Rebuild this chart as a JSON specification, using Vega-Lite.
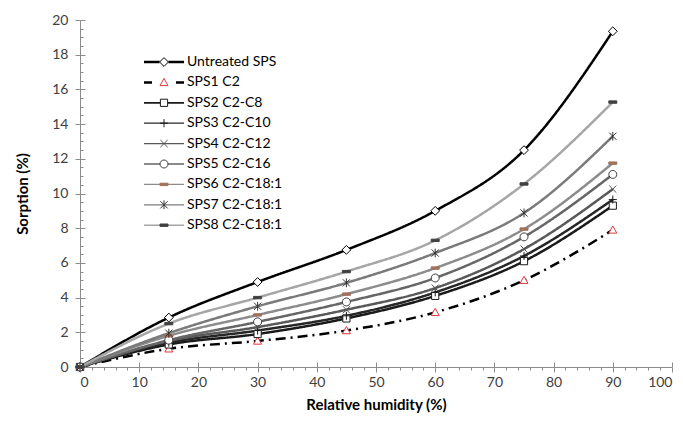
{
  "$schema": "https://vega.github.io/schema/vega-lite/v6.json",
  "width": 592,
  "height": 347,
  "autosize": "none",
  "padding": {"left": 80, "top": 20, "right": 11, "bottom": 58},
  "background": "white",
  "config": {"view": {"stroke": null}, "font": "Lato"},
  "data": {
    "values": [
      {"series": "Untreated SPS", "rh": 0, "s": 0},
      {"series": "Untreated SPS", "rh": 15, "s": 2.85},
      {"series": "Untreated SPS", "rh": 30, "s": 4.9},
      {"series": "Untreated SPS", "rh": 45, "s": 6.75},
      {"series": "Untreated SPS", "rh": 60, "s": 9.0},
      {"series": "Untreated SPS", "rh": 75, "s": 12.5},
      {"series": "Untreated SPS", "rh": 90, "s": 19.35},
      {"series": "SPS1 C2", "rh": 0, "s": 0},
      {"series": "SPS1 C2", "rh": 15, "s": 1.05},
      {"series": "SPS1 C2", "rh": 30, "s": 1.5},
      {"series": "SPS1 C2", "rh": 45, "s": 2.1},
      {"series": "SPS1 C2", "rh": 60, "s": 3.15},
      {"series": "SPS1 C2", "rh": 75, "s": 5.0},
      {"series": "SPS1 C2", "rh": 90, "s": 7.9},
      {"series": "SPS2 C2-C8", "rh": 0, "s": 0},
      {"series": "SPS2 C2-C8", "rh": 15, "s": 1.3},
      {"series": "SPS2 C2-C8", "rh": 30, "s": 1.9},
      {"series": "SPS2 C2-C8", "rh": 45, "s": 2.8},
      {"series": "SPS2 C2-C8", "rh": 60, "s": 4.1},
      {"series": "SPS2 C2-C8", "rh": 75, "s": 6.1},
      {"series": "SPS2 C2-C8", "rh": 90, "s": 9.3},
      {"series": "SPS3 C2-C10", "rh": 0, "s": 0},
      {"series": "SPS3 C2-C10", "rh": 15, "s": 1.4},
      {"series": "SPS3 C2-C10", "rh": 30, "s": 2.1},
      {"series": "SPS3 C2-C10", "rh": 45, "s": 2.95},
      {"series": "SPS3 C2-C10", "rh": 60, "s": 4.3},
      {"series": "SPS3 C2-C10", "rh": 75, "s": 6.4},
      {"series": "SPS3 C2-C10", "rh": 90, "s": 9.65},
      {"series": "SPS4 C2-C12", "rh": 0, "s": 0},
      {"series": "SPS4 C2-C12", "rh": 15, "s": 1.5},
      {"series": "SPS4 C2-C12", "rh": 30, "s": 2.3},
      {"series": "SPS4 C2-C12", "rh": 45, "s": 3.3},
      {"series": "SPS4 C2-C12", "rh": 60, "s": 4.55},
      {"series": "SPS4 C2-C12", "rh": 75, "s": 6.8},
      {"series": "SPS4 C2-C12", "rh": 90, "s": 10.25},
      {"series": "SPS5 C2-C16", "rh": 0, "s": 0},
      {"series": "SPS5 C2-C16", "rh": 15, "s": 1.55},
      {"series": "SPS5 C2-C16", "rh": 30, "s": 2.6},
      {"series": "SPS5 C2-C16", "rh": 45, "s": 3.75},
      {"series": "SPS5 C2-C16", "rh": 60, "s": 5.13},
      {"series": "SPS5 C2-C16", "rh": 75, "s": 7.5},
      {"series": "SPS5 C2-C16", "rh": 90, "s": 11.1},
      {"series": "SPS6 C2-C18:1", "rh": 0, "s": 0},
      {"series": "SPS6 C2-C18:1", "rh": 15, "s": 1.8},
      {"series": "SPS6 C2-C18:1", "rh": 30, "s": 3.0},
      {"series": "SPS6 C2-C18:1", "rh": 45, "s": 4.2},
      {"series": "SPS6 C2-C18:1", "rh": 60, "s": 5.7},
      {"series": "SPS6 C2-C18:1", "rh": 75, "s": 7.95},
      {"series": "SPS6 C2-C18:1", "rh": 90, "s": 11.75},
      {"series": "SPS7 C2-C18:1", "rh": 0, "s": 0},
      {"series": "SPS7 C2-C18:1", "rh": 15, "s": 1.95},
      {"series": "SPS7 C2-C18:1", "rh": 30, "s": 3.5},
      {"series": "SPS7 C2-C18:1", "rh": 45, "s": 4.85},
      {"series": "SPS7 C2-C18:1", "rh": 60, "s": 6.57},
      {"series": "SPS7 C2-C18:1", "rh": 75, "s": 8.88},
      {"series": "SPS7 C2-C18:1", "rh": 90, "s": 13.3},
      {"series": "SPS8 C2-C18:1", "rh": 0, "s": 0},
      {"series": "SPS8 C2-C18:1", "rh": 15, "s": 2.5},
      {"series": "SPS8 C2-C18:1", "rh": 30, "s": 4.0},
      {"series": "SPS8 C2-C18:1", "rh": 45, "s": 5.5},
      {"series": "SPS8 C2-C18:1", "rh": 60, "s": 7.3},
      {"series": "SPS8 C2-C18:1", "rh": 75, "s": 10.55},
      {"series": "SPS8 C2-C18:1", "rh": 90, "s": 15.27}
    ]
  },
  "resolve": {
    "axis": {"x": "independent", "y": "independent"},
    "scale": {"shape": "independent", "fill": "independent", "stroke": "independent"}
  },
  "layer": [
    {
      "transform": [
        {"calculate": "datum.series + '  '", "as": "lg"},
        {"filter": "false"}
      ],
      "mark": {"type": "point", "filled": true, "size": 64, "stroke": "transparent", "strokeWidth": 0, "opacity": 1},
      "encoding": {
        "shape": {
          "field": "lg", "type": "nominal",
          "scale": {
            "domain": ["Untreated SPS  ", "SPS1 C2  ", "SPS2 C2-C8  ", "SPS3 C2-C10  ", "SPS4 C2-C12  ", "SPS5 C2-C16  ", "SPS6 C2-C18:1  ", "SPS7 C2-C18:1  ", "SPS8 C2-C18:1  "],
            "range": [
              "M-5,-0.31H-1.1V0.31H-5ZM1.1,-0.31H5V0.31H1.1Z",
              "M-5,-0.31H-3V0.31H-5ZM3,-0.31H5V0.31H3Z",
              "M-5,-0.22H-0.9V0.22H-5ZM0.9,-0.22H5V0.22H0.9Z",
              "M-5,-0.15H5V0.15H-5Z",
              "M-5,-0.15H5V0.15H-5Z",
              "M-5,-0.18H-1V0.18H-5ZM1,-0.18H5V0.18H1Z",
              "M-5,-0.18H5V0.18H-5Z",
              "M-5,-0.15H5V0.15H-5Z",
              "M-5,-0.18H5V0.18H-5Z"
            ]
          },
          "legend": {
            "orient": "none", "legendX": 77, "legendY": 35, "title": null,
            "symbolSize": 64, "padding": 0, "symbolStrokeWidth": 0, "symbolStrokeColor": "transparent",
            "labelFont": "Lato", "labelFontSize": 14, "labelColor": "#000000", "labelExpr": "trim(datum.label)",
            "labelOffset": 16, "rowPadding": 6.4, "labelLimit": 200
          }
        },
        "fill": {
          "field": "lg", "type": "nominal",
          "scale": {
            "domain": ["Untreated SPS  ", "SPS1 C2  ", "SPS2 C2-C8  ", "SPS3 C2-C10  ", "SPS4 C2-C12  ", "SPS5 C2-C16  ", "SPS6 C2-C18:1  ", "SPS7 C2-C18:1  ", "SPS8 C2-C18:1  "],
            "range": ["#000000", "#000000", "#1a1a1a", "#262626", "#595959", "#666666", "#8c8c8c", "#7a7a7a", "#a6a6a6"]
          },
          "legend": {
            "orient": "none", "legendX": 77, "legendY": 35, "title": null,
            "symbolSize": 64, "padding": 0, "symbolStrokeWidth": 0, "symbolStrokeColor": "transparent",
            "labelFont": "Lato", "labelFontSize": 14, "labelColor": "#000000", "labelExpr": "trim(datum.label)",
            "labelOffset": 16, "rowPadding": 6.4, "labelLimit": 200
          }
        }
      }
    },
    {
      "mark": {"type": "line", "interpolate": "monotone"},
      "encoding": {
        "x": {
          "field": "rh", "type": "quantitative",
          "scale": {"domain": [0, 100], "nice": false, "zero": false},
          "axis": {
            "orient": "bottom",
            "values": [0, 10, 20, 30, 40, 50, 60, 70, 80, 90, 100],
            "title": "Relative humidity (%)", "grid": false,
            "tickSize": 5, "domainColor": "#8c8c8c", "tickColor": "#8c8c8c",
            "labelFont": "Lato", "labelFontSize": 14, "labelColor": "#404040", "labelPadding": 3,
            "titleFont": "Lato", "titleFontSize": 15, "titleFontWeight": "bold", "titleColor": "#000000", "titlePadding": 8
          }
        },
        "y": {
          "field": "s", "type": "quantitative",
          "scale": {"domain": [0, 20], "nice": false, "zero": false},
          "axis": {
            "orient": "left",
            "values": [0, 2, 4, 6, 8, 10, 12, 14, 16, 18, 20],
            "title": "Sorption  (%)", "grid": false,
            "tickSize": 5, "domainColor": "#8c8c8c", "tickColor": "#8c8c8c",
            "labelFont": "Lato", "labelFontSize": 14, "labelColor": "#404040", "labelPadding": 7,
            "titleFont": "Lato", "titleFontSize": 15, "titleFontWeight": "bold", "titleColor": "#000000", "titlePadding": 21
          }
        },
        "color": {
          "field": "series", "type": "nominal",
          "scale": {
            "domain": ["Untreated SPS", "SPS1 C2", "SPS2 C2-C8", "SPS3 C2-C10", "SPS4 C2-C12", "SPS5 C2-C16", "SPS6 C2-C18:1", "SPS7 C2-C18:1", "SPS8 C2-C18:1"],
            "range": ["#000000", "#000000", "#1a1a1a", "#262626", "#595959", "#666666", "#8c8c8c", "#7a7a7a", "#a6a6a6"]
          },
          "legend": null
        },
        "strokeDash": {
          "field": "series", "type": "nominal",
          "scale": {
            "domain": ["Untreated SPS", "SPS1 C2", "SPS2 C2-C8", "SPS3 C2-C10", "SPS4 C2-C12", "SPS5 C2-C16", "SPS6 C2-C18:1", "SPS7 C2-C18:1", "SPS8 C2-C18:1"],
            "range": [[1, 0], [10, 5, 2, 5], [1, 0], [1, 0], [1, 0], [1, 0], [1, 0], [1, 0], [1, 0]]
          },
          "legend": null
        },
        "strokeWidth": {
          "field": "series", "type": "nominal",
          "scale": {
            "domain": ["Untreated SPS", "SPS1 C2", "SPS2 C2-C8", "SPS3 C2-C10", "SPS4 C2-C12", "SPS5 C2-C16", "SPS6 C2-C18:1", "SPS7 C2-C18:1", "SPS8 C2-C18:1"],
            "range": [2.5, 2.5, 1.75, 1.25, 1.25, 1.5, 1.5, 1.25, 1.5]
          },
          "legend": null
        }
      }
    },
    {
      "transform": [{"calculate": "datum.series + ' '", "as": "mk"}],
      "mark": {"type": "point", "size": 64, "strokeWidth": 1, "opacity": 1},
      "encoding": {
        "x": {
          "field": "rh", "type": "quantitative",
          "axis": {
            "orient": "bottom",
            "values": [2, 4, 6, 8, 12, 14, 16, 18, 22, 24, 26, 28, 32, 34, 36, 38, 42, 44, 46, 48, 52, 54, 56, 58, 62, 64, 66, 68, 72, 74, 76, 78, 82, 84, 86, 88, 92, 94, 96, 98],
            "labels": false, "domain": false, "grid": false, "title": null,
            "tickSize": 3, "tickColor": "#8c8c8c"
          }
        },
        "y": {
          "field": "s", "type": "quantitative",
          "axis": {
            "orient": "left",
            "values": [0.5, 1, 1.5, 2.5, 3, 3.5, 4.5, 5, 5.5, 6.5, 7, 7.5, 8.5, 9, 9.5, 10.5, 11, 11.5, 12.5, 13, 13.5, 14.5, 15, 15.5, 16.5, 17, 17.5, 18.5, 19, 19.5],
            "labels": false, "domain": false, "grid": false, "title": null,
            "tickSize": -3, "tickColor": "#8c8c8c"
          }
        },
        "shape": {
          "field": "mk", "type": "nominal",
          "scale": {
            "domain": ["Untreated SPS ", "SPS1 C2 ", "SPS2 C2-C8 ", "SPS3 C2-C10 ", "SPS4 C2-C12 ", "SPS5 C2-C16 ", "SPS6 C2-C18:1 ", "SPS7 C2-C18:1 ", "SPS8 C2-C18:1 "],
            "range": [
              "M0,-1.1L1.1,0L0,1.1L-1.1,0Z",
              "M0,-1L1,0.8L-1,0.8Z",
              "M-0.9,-0.9H0.9V0.9H-0.9Z",
              "M-1,0H1M0,-1V1",
              "M-0.9,-0.9L0.9,0.9M-0.9,0.9L0.9,-0.9",
              "M-1,0A1,1 0 1,0 1,0A1,1 0 1,0 -1,0Z",
              "M-1,-0.3H1V0.3H-1Z",
              "M-0.9,-0.9L0.9,0.9M-0.9,0.9L0.9,-0.9M0,-1.1V1.1",
              "M-1,-0.3H1V0.3H-1Z"
            ]
          },
          "legend": {
            "orient": "none", "legendX": 77, "legendY": 35, "title": null,
            "symbolSize": 64, "padding": 0, "symbolStrokeWidth": 1,
            "labelFont": "Lato", "labelFontSize": 14, "labelExpr": "''",
            "labelOffset": 16, "rowPadding": 6.4, "labelLimit": 200
          }
        },
        "stroke": {
          "field": "mk", "type": "nominal",
          "scale": {
            "domain": ["Untreated SPS ", "SPS1 C2 ", "SPS2 C2-C8 ", "SPS3 C2-C10 ", "SPS4 C2-C12 ", "SPS5 C2-C16 ", "SPS6 C2-C18:1 ", "SPS7 C2-C18:1 ", "SPS8 C2-C18:1 "],
            "range": ["#000000", "#e0393e", "#1a1a1a", "#1a1a1a", "#555555", "#404040", "#a0725c", "#333333", "#404040"]
          },
          "legend": {
            "orient": "none", "legendX": 77, "legendY": 35, "title": null,
            "symbolSize": 64, "padding": 0, "symbolStrokeWidth": 1,
            "labelFont": "Lato", "labelFontSize": 14, "labelExpr": "''",
            "labelOffset": 16, "rowPadding": 6.4, "labelLimit": 200
          }
        },
        "fill": {
          "field": "mk", "type": "nominal",
          "scale": {
            "domain": ["Untreated SPS ", "SPS1 C2 ", "SPS2 C2-C8 ", "SPS3 C2-C10 ", "SPS4 C2-C12 ", "SPS5 C2-C16 ", "SPS6 C2-C18:1 ", "SPS7 C2-C18:1 ", "SPS8 C2-C18:1 "],
            "range": ["#ffffff", "#ffffff", "#ffffff", "#ffffff", "#ffffff", "#ffffff", "#a0725c", "#ffffff", "#404040"]
          },
          "legend": null
        }
      }
    },
    {
      "mark": {"type": "point", "opacity": 0},
      "encoding": {
        "x": {
          "field": "rh", "type": "quantitative",
          "axis": {
            "orient": "bottom",
            "values": [0, 10, 20, 30, 40, 50, 60, 70, 80, 90, 100],
            "labels": false, "domain": false, "grid": false, "title": null,
            "tickSize": -5, "tickColor": "#8c8c8c"
          }
        },
        "y": {
          "field": "s", "type": "quantitative",
          "axis": {
            "orient": "left",
            "values": [0, 2, 4, 6, 8, 10, 12, 14, 16, 18, 20],
            "labels": false, "domain": false, "grid": false, "title": null,
            "tickSize": -5, "tickColor": "#8c8c8c"
          }
        }
      }
    }
  ]
}
